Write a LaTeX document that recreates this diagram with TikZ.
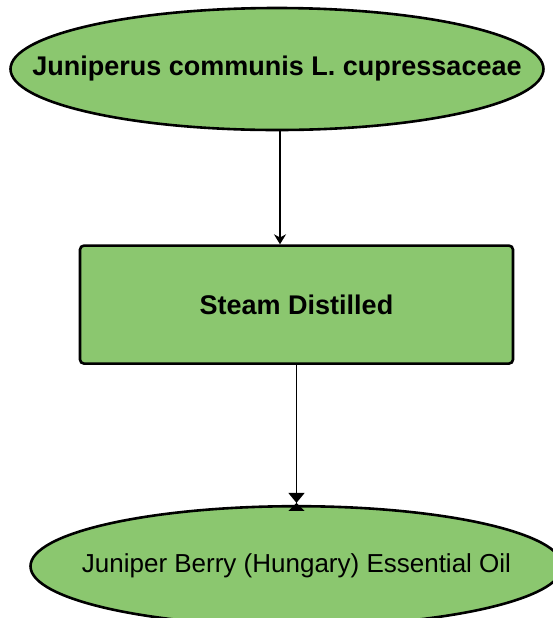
\documentclass[tikz,border=0pt]{standalone}
\usepackage{fontspec}
\setmainfont{Liberation Sans}
\usetikzlibrary{
	arrows.meta,shapes.geometric,positioning,calc
}
\definecolor{leafgreen}{RGB}{139,199,111}
\tikzset{
  auto,
  startend/.style={
    ellipse, minimum width=266.5pt, minimum height=61pt, inner sep=0pt,
    line width=1.3pt, draw=black, fill=leafgreen
  },
  %
  process/.style={
    rectangle, minimum width=216.5pt, minimum height=59pt, rounded corners=2pt,
    line width=1.3pt, draw=black, fill=leafgreen
  },
  %
  flow/.style={
    line width=0.7pt, draw=black
  }
}

\begin{document}
\begin{tikzpicture}
\useasboundingbox (-138.5pt,34.5pt) rectangle (138pt,-274.5pt);

\node(juniper)[startend, label={center:\fontsize{13.5pt}{16pt}\selectfont\textbf{Juniperus communis L. cupressaceae}}] at (0,0){};

\node(steam)[process, below=56.5pt of juniper, xshift=9.75pt]{
    \fontsize{13.5pt}{16pt}\selectfont\textbf{Steam Distilled}
};

\node(oil)[startend, below=70pt of steam, minimum width=266pt, minimum height=60pt,
    label={center:\fontsize{13pt}{16pt}\selectfont Juniper Berry (Hungary) Essential Oil}]{};
\draw[flow, -{Stealth[length=5pt, width=6pt]}] ([xshift=1.5pt]juniper.south) -- ([xshift=1.5pt]juniper.south |- steam.north);
\draw[flow, -{Triangle[length=5pt, width=8pt] Triangle[reversed, length=4pt, width=8pt]}, shorten >=-3pt] (steam) -- (oil);

\end{tikzpicture}
\end{document}
